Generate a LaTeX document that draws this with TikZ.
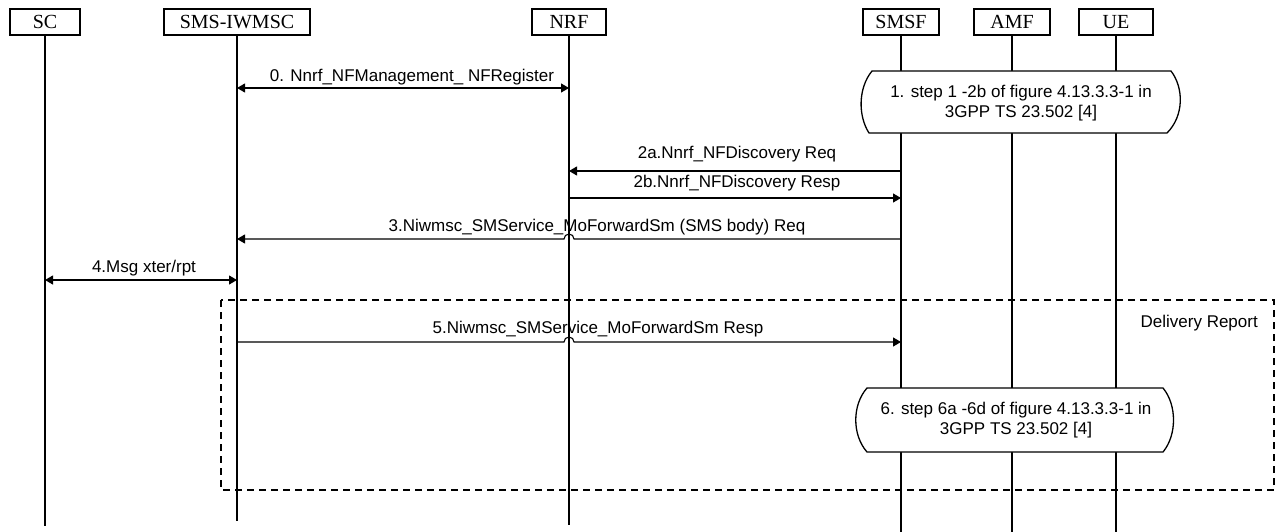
\documentclass[tikz,border=0pt]{standalone}
\usepackage{fontspec}
\setmainfont{Liberation Serif}
\newfontfamily\arialf{Liberation Sans}
\usetikzlibrary{arrows.meta}
\begin{document}
\begin{tikzpicture}[x=1pt,y=1pt,
  ent/.style={draw, line width=1.1pt, minimum height=26pt, inner sep=0pt, font=\fontsize{20}{22}\selectfont},
  life/.style={line width=1.1pt},
  msg/.style={line width=1.1pt, -{Triangle[length=8pt,width=9pt]}},
  dmsg/.style={line width=1.1pt, {Triangle[length=8pt,width=9pt]}-{Triangle[length=8pt,width=9pt]}},
  lbl/.style={font=\arialf\fontsize{17}{20}\selectfont, inner sep=0pt, align=center},
  stepshape/.style={draw, line width=1.3pt, fill=white},
  grp/.style={draw, line width=1.1pt, dash pattern=on 7pt off 5pt}
]
\useasboundingbox (0,0) rectangle (1276,-532);
% entities
\node[ent, minimum width=70pt] (sc) at (45,-22) {SC};
\node[ent, minimum width=146pt] (sms) at (237,-22) {SMS-IWMSC};
\node[ent, minimum width=74pt] (nrf) at (569,-22) {NRF};
\node[ent, minimum width=76pt] (smsf) at (901,-22) {SMSF};
\node[ent, minimum width=76pt] (amf) at (1012,-22) {AMF};
\node[ent, minimum width=74pt] (ue) at (1116,-22) {UE};
% lifeline ends
\coordinate (scend) at (45,-526);
\coordinate (smsend) at (237,-521);
\coordinate (nrfend) at (569,-525);
\coordinate (smsfend) at (901,-532);
\coordinate (amfend) at (1012,-532);
\coordinate (ueend) at (1116,-532);
\draw[life] (sc) -- (scend);
\draw[life] (sms) -- (smsend);
\draw[life] (nrf) -- (nrfend);
\draw[life] (smsf) -- (smsfend);
\draw[life] (amf) -- (amfend);
\draw[life] (ue) -- (ueend);
% group box
\draw[grp] (221,-300) rectangle (1274,-490);
\node[lbl, anchor=east] (dr) at (1258,-323) {Delivery Report};
% step 1 box
\draw[stepshape] (872,-71) -- (1171,-71) .. controls (1184,-88) and (1184,-116) .. (1167,-133)
  -- (869,-133) .. controls (858,-116) and (858,-88) .. (872,-71) -- cycle;
\node[lbl] (s1) at (1021,-103) {1. step 1 -2b of figure 4.13.3.3-1 in\\3GPP TS 23.502 [4]};
% step 6 box
\draw[stepshape] (867,-388) -- (1163,-388) .. controls (1177,-405) and (1177,-435) .. (1163,-452)
  -- (867,-452) .. controls (852,-435) and (852,-405) .. (867,-388) -- cycle;
\node[lbl] (s6) at (1016,-420) {6. step 6a -6d of figure 4.13.3.3-1 in\\3GPP TS 23.502 [4]};
% messages
\draw[dmsg] (sms |- 0,-88) -- (nrf |- 0,-88);
\node[lbl] (m0) at (412,-77) {0. Nnrf\_NFManagement\_ NFRegister};
\draw[msg] (smsf |- 0,-171) -- (nrf |- 0,-171);
\node[lbl] (m2a) at (737,-154) {2a.Nnrf\_NFDiscovery Req};
\draw[msg] (nrf |- 0,-198) -- (smsf |- 0,-198);
\node[lbl] (m2b) at (737,-183) {2b.Nnrf\_NFDiscovery Resp};
\draw[msg] (smsf |- 0,-239) -- (574,-239) arc[start angle=0,end angle=180,radius=5] -- (sms |- 0,-239);
\node[lbl] (m3) at (597,-227) {3.Niwmsc\_SMService\_MoForwardSm (SMS body) Req};
\draw[dmsg] (sc |- 0,-280) -- (sms |- 0,-280);
\node[lbl] (m4) at (144,-268) {4.Msg xter/rpt};
\draw[msg] (sms |- 0,-342) -- (564,-342) arc[start angle=180,end angle=0,radius=5] -- (smsf |- 0,-342);
\node[lbl] (m5) at (598,-329) {5.Niwmsc\_SMService\_MoForwardSm Resp};
\end{tikzpicture}
\end{document}
